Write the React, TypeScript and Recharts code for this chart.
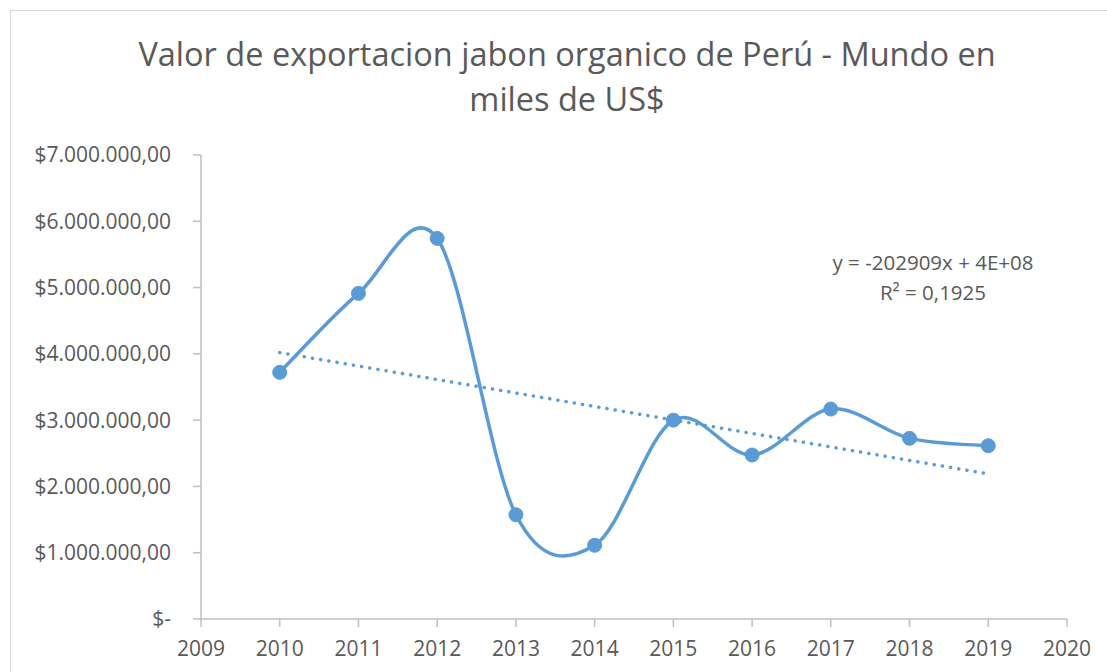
import React from "react";
import { LineChart, Line, XAxis, YAxis } from "recharts";

const years = [2010, 2011, 2012, 2013, 2014, 2015, 2016, 2017, 2018, 2019];
const values = [3721000, 4912000, 5742000, 1573000, 1112000, 3000000, 2474000, 3167000, 2725000, 2614000];
const yTicks = [0, 1000000, 2000000, 3000000, 4000000, 5000000, 6000000, 7000000];
const xTicks = [2009, 2010, 2011, 2012, 2013, 2014, 2015, 2016, 2017, 2018, 2019, 2020];
const titleLines = ["Valor de exportacion jabon organico de Perú - Mundo en", "miles de US$"];
const equationLines = ["y = -202909x + 4E+08", "R² = 0,1925"];

// least squares trend computed from the series
const n = years.length;
const mx = years.reduce((a, b) => a + b, 0) / n;
const my = values.reduce((a, b) => a + b, 0) / n;
let sxy = 0;
let sxx = 0;
for (let i = 0; i < n; i++) {
  sxy += (years[i] - mx) * (values[i] - my);
  sxx += (years[i] - mx) * (years[i] - mx);
}
const slope = sxy / sxx;
const intercept = my - slope * mx;

const data = years.map((y, i) => ({ year: y, value: values[i], trend: intercept + slope * y }));

const fmt = (v: number) => {
  if (v === 0) return "$-";
  const s = Math.round(v).toString().replace(/\B(?=(\d{3})+(?!\d))/g, ".");
  return "$" + s + ",00";
};

// Excel-like smooth line (Catmull-Rom as cubic Bezier)
const excelSmooth: any = (context: any) => {
  let pts: number[][] = [];
  return {
    areaStart() {},
    areaEnd() {},
    lineStart() {
      pts = [];
    },
    lineEnd() {
      if (!pts.length) return;
      context.moveTo(pts[0][0], pts[0][1]);
      for (let i = 0; i < pts.length - 1; i++) {
        const p0 = pts[Math.max(0, i - 1)];
        const p1 = pts[i];
        const p2 = pts[i + 1];
        const p3 = pts[Math.min(pts.length - 1, i + 2)];
        context.bezierCurveTo(
          p1[0] + (p2[0] - p0[0]) / 6,
          p1[1] + (p2[1] - p0[1]) / 6,
          p2[0] - (p3[0] - p1[0]) / 6,
          p2[1] - (p3[1] - p1[1]) / 6,
          p2[0],
          p2[1]
        );
      }
    },
    point(x: number, y: number) {
      pts.push([+x, +y]);
    },
  };
};

const COLOR = "#5B9BD5";
const TEXT = "#595959";
const FONT = "'Open Sans', 'Noto Sans', sans-serif";

export default function App() {
  return (
    <div
      style={{
        position: "absolute",
        left: 0,
        top: 0,
        width: 1107,
        height: 672,
        overflow: "hidden",
        background: "#fff",
        fontFamily: FONT,
      }}
    >
      <div
        style={{
          position: "absolute",
          left: 10,
          top: 10,
          width: 1200,
          height: 800,
          border: "1.5px solid #D9D9D9",
        }}
      />
      <div
        style={{
          position: "absolute",
          left: 0,
          top: 31,
          width: 1134,
          textAlign: "center",
          color: TEXT,
          fontSize: 32.5,
          lineHeight: "45px",
          fontWeight: 400,
          whiteSpace: "nowrap",
        }}
      >
        {titleLines.map((t) => (
          <div key={t}>{t}</div>
        ))}
      </div>
      <div
        style={{
          position: "absolute",
          left: 783,
          top: 247,
          width: 300,
          textAlign: "center",
          color: TEXT,
          fontSize: 20.5,
          lineHeight: "30px",
          whiteSpace: "nowrap",
        }}
      >
        {equationLines.map((t) => (
          <div key={t}>{t}</div>
        ))}
      </div>
      <div style={{ position: "absolute", left: 0, top: 0 }}>
        <LineChart
          width={1107}
          height={672}
          data={data}
          margin={{ top: 155, right: 40, bottom: 13, left: 0 }}
        >
          <XAxis
            dataKey="year"
            type="number"
            domain={[2009, 2020]}
            ticks={xTicks}
            interval={0}
            allowDataOverflow
            stroke="#BFBFBF"
            strokeWidth={1.5}
            tickSize={8}
            tickMargin={14}
            height={40}
            tick={{ fill: TEXT, fontSize: 21, fontFamily: FONT }}
            tickLine={{ stroke: "#BFBFBF" }}
          />
          <YAxis
            type="number"
            domain={[0, 7000000]}
            ticks={yTicks}
            interval={0}
            width={201}
            stroke="#BFBFBF"
            strokeWidth={1.5}
            tickSize={8}
            tickMargin={22}
            tickFormatter={fmt}
            tick={{ fill: TEXT, fontSize: 21, fontFamily: FONT }}
            tickLine={{ stroke: "#BFBFBF" }}
          />
          <Line
            dataKey="value"
            type={excelSmooth}
            stroke={COLOR}
            strokeWidth={3.5}
            dot={{ r: 7, fill: COLOR, stroke: COLOR, strokeWidth: 1 }}
            activeDot={false}
            isAnimationActive={false}
          />
          <Line
            dataKey="trend"
            type="linear"
            stroke={COLOR}
            strokeWidth={3.5}
            strokeDasharray="0.1 8.2"
            strokeLinecap="round"
            dot={false}
            activeDot={false}
            isAnimationActive={false}
          />
        </LineChart>
      </div>
    </div>
  );
}
